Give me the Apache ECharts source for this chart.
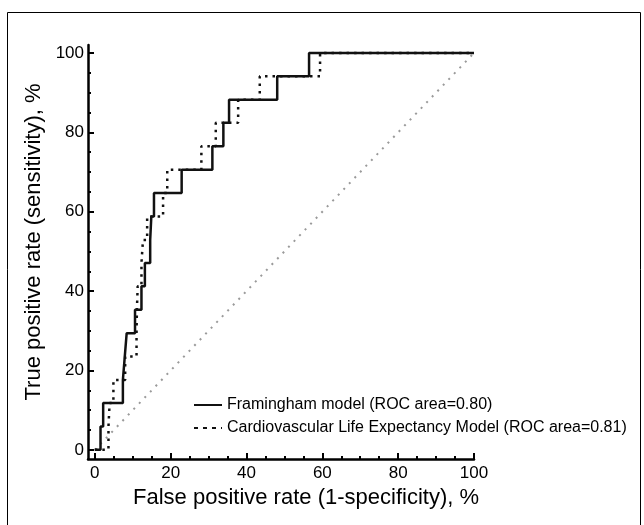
<!DOCTYPE html>
<html>
<head>
<meta charset="utf-8">
<script src="https://cdn.jsdelivr.net/npm/echarts@6/dist/echarts.min.js"></script>
<style>
html,body{margin:0;padding:0;background:#fff;}
#chart{width:644px;height:525px;}
</style>
</head>
<body>
<div id="chart"></div>
<script>
// Framingham model ROC curve (step points: x = FPR %, y = TPR %)
const fprFram = [0, 1.5, 2.2, 7.4, 7.9, 8.4, 10.6, 12.3, 13.2, 14.6, 14.9, 15.6, 22.9, 31.0, 33.9, 35.4, 48.1, 56.5, 100];
const tprFram = [0, 5.9, 11.8, 17.6, 23.5, 29.4, 35.3, 41.2, 47.1, 52.9, 58.8, 64.7, 70.6, 76.5, 82.4, 88.2, 94.1, 100, 100];
// Cardiovascular Life Expectancy Model ROC curve
const fprClem = [0, 3.6, 3.9, 4.9, 8.0, 11.0, 11.1, 11.3, 12.3, 12.7, 13.8, 18.0, 19.1, 28.1, 31.9, 37.8, 43.5, 59.4, 100];
const tprClem = [0, 5.9, 11.8, 17.6, 23.5, 29.4, 35.3, 41.2, 47.1, 52.9, 58.8, 64.7, 70.6, 76.5, 82.4, 88.2, 94.1, 100, 100];
// Chance diagonal
const diagX = [0, 100];
const diagY = [0, 100];
// Tick values
const majorTicks = [0, 20, 40, 60, 80, 100];
const minorTicks = [5, 10, 15, 25, 30, 35, 45, 50, 55, 65, 70, 75, 85, 90, 95];
const nameFram = 'Framingham model (ROC area=0.80)';
const nameClem = 'Cardiovascular Life Expectancy Model (ROC area=0.81)';

const FONT = '"Liberation Sans", Arial, Helvetica, sans-serif';
const zip = (xs, ys) => xs.map((x, i) => [x, ys[i]]);

const chart = echarts.init(document.getElementById('chart'), null, {renderer: 'canvas'});

const xMin = -1.8, xMax = 100, yMin = -2.3, yMax = 102;

function mkAxis(isX, major) {
  const a = {
    type: 'value', min: isX ? xMin : yMin, max: isX ? xMax : yMax,
    position: isX ? 'bottom' : 'left',
    splitLine: {show: false},
    axisLine: {show: major, onZero: false, lineStyle: {color: '#000', width: 2.5}},
    axisTick: {show: true, inside: true, length: major ? 6 : 3,
      customValues: major ? majorTicks : minorTicks,
      lineStyle: {color: '#000', width: 2}},
    axisLabel: {show: major, customValues: majorTicks, color: '#000',
      fontFamily: FONT, fontSize: 17, margin: isX ? 6 : 4}
  };
  if (major) {
    a.name = isX ? 'False positive rate (1-specificity), %' : 'True positive rate (sensitivity), %';
    a.nameLocation = 'middle';
    a.nameGap = isX ? 28 : 38;
    a.nameTextStyle = {color: '#000', fontFamily: FONT, fontSize: 22,
      padding: isX ? [0, 0, 0, 50] : [0, 0, 0, 20]};
  }
  return a;
}

chart.setOption({
  animation: false,
  backgroundColor: '#fff',
  grid: {left: 88, top: 45, width: 386, height: 414, containLabel: false},
  xAxis: [mkAxis(true, true), mkAxis(true, false)],
  yAxis: [mkAxis(false, true), mkAxis(false, false)],
  legend: {
    orient: 'vertical', left: 188, top: 392, itemGap: 7,
    itemWidth: 28, itemHeight: 14,
    itemStyle: {opacity: 0},
    textStyle: {color: '#000', fontFamily: FONT, fontSize: 16},
    data: [
      {name: nameFram},
      {name: nameClem, lineStyle: {type: [4, 5], width: 2}}
    ]
  },
  graphic: [{
    type: 'polyline', silent: true,
    shape: {points: [[7.5, 530], [7.5, 12.5], [640.5, 12.5], [640.5, 530]]},
    style: {stroke: '#000', lineWidth: 1, fill: null}
  }],
  series: [
    {type: 'line', name: 'diag', data: zip(diagX, diagY), symbol: 'none', silent: true,
      lineStyle: {color: '#9a9a9a', width: 2, type: [2, 6]}, z: 1},
    {type: 'line', name: nameClem, data: zip(fprClem, tprClem), step: 'end', symbol: 'none',
      lineStyle: {color: '#111', width: 2.5, type: [2.5, 5]}, itemStyle: {color: '#111'}, z: 2},
    {type: 'line', name: nameFram, data: zip(fprFram, tprFram), step: 'end', symbol: 'none',
      lineStyle: {color: '#111', width: 2.5, type: 'solid'}, itemStyle: {color: '#111'}, z: 3}
  ]
});
</script>
</body>
</html>
